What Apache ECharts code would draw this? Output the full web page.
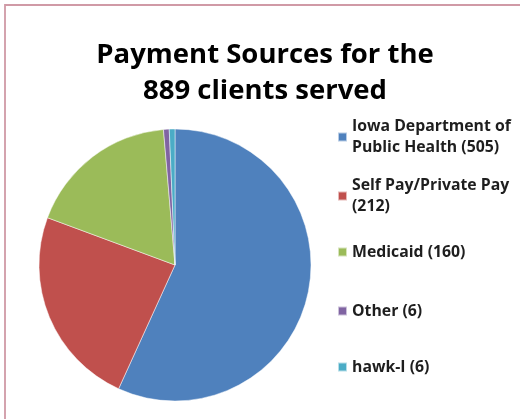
<!DOCTYPE html>
<html>
<head>
<meta charset="utf-8">
<script src="https://cdn.jsdelivr.net/npm/echarts@6/dist/echarts.min.js"></script>
<style>
html,body{margin:0;padding:0;background:#fff;}
#chart{width:520px;height:419px;}
</style>
</head>
<body>
<div id="chart"></div>
<script>
const categories = ['Iowa Department of Public Health', 'Self Pay/Private Pay', 'Medicaid', 'Other', 'hawk-I'];
const values = [505, 212, 160, 6, 6];
const legendLabels = ['Iowa Department of\nPublic Health (505)', 'Self Pay/Private Pay\n(212)', 'Medicaid (160)', 'Other (6)', 'hawk-I (6)'];
const colors = ['#4F81BD', '#C0504D', '#9BBB59', '#8064A2', '#4BACC6'];
const titleText = 'Payment Sources for the\n889 clients served';

const markerCenters = [137, 196, 252, 311, 367];
const LH = 21;

const legends = categories.map((name, i) => {
  const twoLine = legendLabels[i].indexOf('\n') >= 0;
  return {
    orient: 'vertical',
    left: 337,
    top: twoLine ? markerCenters[i] - LH * 1.5 : markerCenters[i] - LH / 2,
    padding: 0,
    icon: 'rect',
    itemWidth: 9,
    itemHeight: 9,
    selectedMode: false,
    data: [name],
    formatter: () => legendLabels[i],
    textStyle: {
      fontFamily: 'Open Sans',
      fontWeight: 'bold',
      fontSize: 15.8,
      lineHeight: LH,
      color: '#1e1e1e',
      padding: twoLine ? [LH, 0, 0, 0] : 0
    }
  };
});

const chart = echarts.init(document.getElementById('chart'), null, {renderer: 'canvas'});
chart.setOption({
  animation: false,
  color: colors,
  title: {
    text: titleText,
    left: 265,
    top: 37,
    textAlign: 'center',
    padding: 0,
    textStyle: {
      fontFamily: 'Open Sans',
      fontWeight: 'bold',
      fontSize: 27.5,
      lineHeight: 36,
      color: '#000'
    }
  },
  legend: legends,
  graphic: [{
    type: 'rect',
    silent: true,
    shape: {x: 5, y: 5, width: 530, height: 430},
    style: {fill: 'none', stroke: '#d09aa6', lineWidth: 1.8}
  }],
  series: [{
    type: 'pie',
    center: [175, 265],
    radius: 136,
    startAngle: 90,
    clockwise: true,
    label: {show: false},
    labelLine: {show: false},
    emphasis: {disabled: true},
    itemStyle: {borderColor: 'rgba(255,255,255,0.6)', borderWidth: 0.8},
    data: categories.map((name, i) => ({name: name, value: values[i]}))
  }]
});
</script>
</body>
</html>
